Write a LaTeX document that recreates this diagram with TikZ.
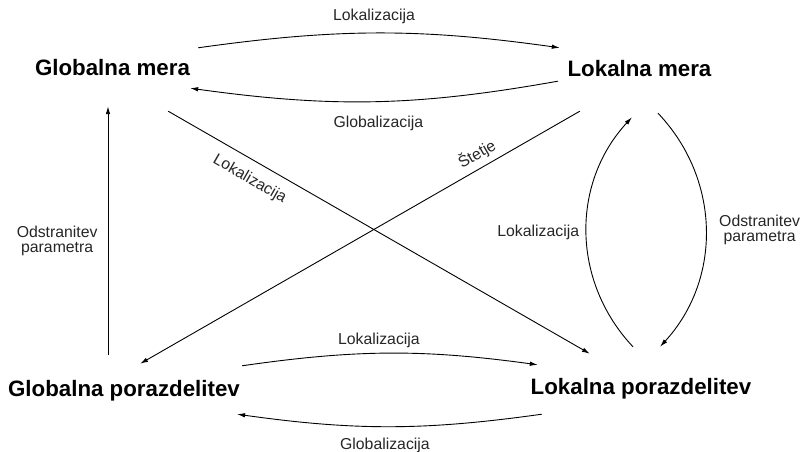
\documentclass[tikz,border=0pt]{standalone}
\usepackage{fontspec}
\setmainfont{Liberation Sans}
\usetikzlibrary{arrows.meta,positioning}

\begin{document}
\begin{tikzpicture}[x=1pt, y=1pt,
  big/.style={font=\fontsize{22.3}{26}\selectfont\bfseries, inner sep=0pt, text height=16pt, text depth=5pt, anchor=base},
  lbl/.style={font=\fontsize{15.8}{15}\selectfont, inner sep=0pt, text=black!85},
  arr/.style={-{Latex[length=8pt,width=4.5pt]}, line width=0.9pt}]
  \useasboundingbox (0,0) rectangle (801,452);
  \node[big] (gm) at (112.5,376) {Globalna mera};
  \node[big] (lm) at (639.5,375) {Lokalna mera};
  \node[big] (gp) at (124,55) {Globalna porazdelitev};
  \node[big] (lp) at (641,57) {Lokalna porazdelitev};
  % top pair
  \draw[arr] ([shift={(8,12)}]gm.north east) to[bend left=8]
    node[lbl, above=9pt, xshift=-5pt] {Lokalizacija} ([shift={(-7.6,13)}]lm.north west);
  \draw[arr] ([shift={(-9.6,1)}]lm.south west) to[bend left=9]
    node[lbl, below=14.5pt, xshift=4pt] {Globalizacija} ([shift={(0,-7)}]gm.south east);
  % left side
  \draw[arr] ([shift={(-16,26)}]gp.north) --
    node[lbl, left=10pt, pos=0.46, align=center] {Odstranitev\\parametra} ([shift={(-4.5,-25)}]gm.south);
  % diagonals
  \draw[arr] ([shift={(-22,-30)}]gm.south east) --
    node[lbl, sloped, below=10.6pt, pos=0.215] {Lokalizacija} ([shift={(-51,25)}]lp.north);
  \draw[arr] ([shift={(12.4,-29)}]lm.south west) --
    node[lbl, sloped, above=5pt, pos=0.218] {Štetje} ([shift={(16,17)}]gp.north);
  % right side
  \draw[arr] ([shift={(-8,32)}]lp.north) to[bend left=43]
    node[lbl, left=7pt] {Lokalizacija} ([shift={(-7.5,-35)}]lm.south);
  \draw[arr] ([shift={(18.5,-31)}]lm.south) to[bend left=43]
    node[lbl, right=13pt, align=center] {Odstranitev\\parametra} ([shift={(19,32)}]lp.north);
  % bottom pair
  \draw[arr] ([shift={(2,15)}]gp.north east) to[bend left=8]
    node[lbl, above=5pt, xshift=-11pt] {Lokalizacija} ([shift={(7.3,14)}]lp.north west);
  \draw[arr] ([shift={(11.3,-14)}]lp.south west) to[bend left=8]
    node[lbl, below=10.5pt, xshift=-4.5pt] {Globalizacija} ([shift={(-3,-12)}]gp.south east);
\end{tikzpicture}
\end{document}
